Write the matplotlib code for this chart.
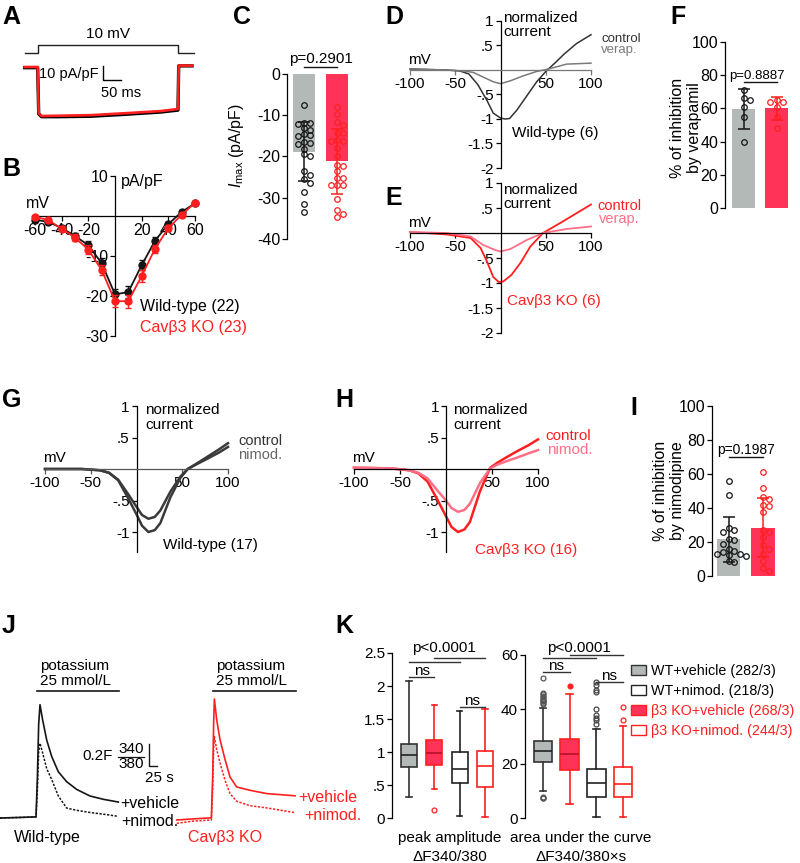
import matplotlib
matplotlib.use('Agg')
import matplotlib.pyplot as plt
from matplotlib.patches import Patch
from matplotlib.lines import Line2D

plt.rcParams['font.family'] = ['Liberation Sans', 'DejaVu Sans']
plt.rcParams['mathtext.fontset'] = 'custom'
plt.rcParams['mathtext.rm'] = 'Liberation Sans'
plt.rcParams['mathtext.it'] = 'Liberation Sans:italic'
plt.rcParams['axes.linewidth'] = 0.9
for a in ('xtick', 'ytick'):
    plt.rcParams[a + '.major.width'] = 0.9
    plt.rcParams[a + '.major.size'] = 3.5
    plt.rcParams[a + '.major.pad'] = 1.5

# ---------------- data ----------------
# A: voltage step and example currents (ms, mV, pA/pF)
prot_t = [-38, 0, 0, 400, 400, 445]
prot_mv = [-70, -70, 10, 10, -70, -70]
a_time = [-38, -1, 2, 10, 60, 150, 250, 350, 400, 402, 440]
a_wt = [-0.5, -0.5, -33.5, -35.5, -35.5, -35.2, -33.8, -32.2, -30.8, 0.8, 0.8]
a_ko = [0, 0, -33, -35, -34.8, -34.4, -33, -31.5, -30, 1, 1]

# B: current-voltage relation
b_mv = [-60, -50, -40, -30, -20, -10, 0, 10, 20, 30, 40, 50, 60]
b_wt = [-0.9, -1.5, -3.0, -5.0, -7.3, -11.8, -19.6, -19.0, -12.3, -6.2, -2.0, 1.0, 3.2]
b_wt_err = [0.3, 0.4, 0.6, 0.8, 1.0, 1.2, 1.3, 1.4, 1.2, 0.9, 0.6, 0.4, 0.4]
b_ko = [-0.2, -1.0, -3.2, -5.4, -8.4, -13.5, -21.3, -21.3, -15.0, -8.2, -3.0, 0.3, 3.3]
b_ko_err = [0.3, 0.4, 0.6, 0.9, 1.1, 1.3, 1.5, 1.6, 1.4, 1.0, 0.7, 0.5, 0.5]

# C: Imax
c_wt = [-7.5, -11.8, -12.0, -12.2, -13.2, -13.5, -14.5, -14.8, -15.0, -16.5, -16.8,
        -17.0, -18.2, -19.5, -20.0, -23.5, -24.5, -25.5, -26.5, -28.5, -31.5, -33.5]
c_ko = [-7.9, -9.8, -11.6, -12.4, -14.2, -14.4, -16.0, -16.3, -16.3, -17.9, -19.9, -22.0,
        -22.4, -23.6, -25.2, -25.2, -26.9, -26.9, -26.9, -30.2, -32.9, -33.9, -34.6]
c_mean = [-18.8, -21.2]
c_sd = [7.2, 7.8]

# D / E: normalized I-V, verapamil
d_mv = [-100, -80, -60, -45, -35, -25, -15, -8, 0, 5, 10, 18, 29, 40, 50, 60, 70, 84, 100]
d_ctrl = [0.02, 0.01, 0, -0.02, -0.08, -0.3, -0.62, -0.88, -0.98, -1.0, -0.99, -0.82,
          -0.53, -0.24, -0.03, 0.14, 0.32, 0.54, 0.72]
d_ver_mv = [-100, -60, -40, -30, -22, -8, 0, 11, 25, 40, 53, 73, 100]
d_ver = [0.02, 0, -0.02, -0.05, -0.12, -0.24, -0.28, -0.22, -0.12, -0.03, 0.02, 0.12, 0.14]
e_mv = [-100, -59, -33, -22, -15, -8, -2, 3, 12, 22, 33, 47, 66, 100]
e_ctrl = [0.02, -0.03, -0.1, -0.3, -0.57, -0.88, -0.98, -0.97, -0.84, -0.6, -0.27, 0.0, 0.2, 0.57]
e_ver_mv = [-100, -60, -33, -19, -6, 0, 11, 29, 47, 73, 100]
e_ver = [0.02, 0.0, -0.07, -0.24, -0.34, -0.37, -0.32, -0.14, 0.0, 0.08, 0.13]

# F: % inhibition by verapamil
f_wt = [71, 66, 65, 61, 55, 40]
f_ko = [65, 64, 64, 61, 55, 48]
f_mean = [59.5, 60.0]
f_sd = [12, 7]

# G / H: normalized I-V, nimodipine
g_mv = [-100, -60, -40, -30, -20, -10, 0, 6, 13, 20, 26, 37, 48, 56, 65, 77, 90, 100]
g_ctrl = [0, 0, -0.02, -0.06, -0.18, -0.44, -0.72, -0.9, -1.0, -0.97, -0.86, -0.45,
          -0.14, 0, 0.08, 0.19, 0.31, 0.41]
g_nim = [0, 0, -0.02, -0.06, -0.17, -0.38, -0.6, -0.73, -0.79, -0.76, -0.66, -0.36,
         -0.12, 0, 0.07, 0.16, 0.26, 0.35]
h_ctrl = [0.02, 0.01, -0.02, -0.07, -0.2, -0.47, -0.75, -0.92, -1.0, -0.96, -0.84, -0.35,
          0.02, 0.1, 0.18, 0.28, 0.38, 0.47]
h_nim = [0.02, 0.01, -0.02, -0.06, -0.15, -0.33, -0.5, -0.62, -0.68, -0.65, -0.55, -0.22,
         0.01, 0.07, 0.12, 0.18, 0.25, 0.3]

# I: % inhibition by nimodipine
i_wt = [56, 47.5, 28, 27, 26, 22, 21, 19, 16, 15, 14, 13, 13, 12.5, 12, 9, 8]
i_ko = [61, 52, 46.5, 45.5, 42, 41, 37.5, 27, 26, 23, 18, 16, 13, 9, 5, 3]
i_mean = [21.5, 28.5]
i_sd = [13, 17.5]

# J: Fura-2 ratio traces (s, dF340/380)
jl_t = [0, 60, 108, 112, 116, 120, 128, 140, 155, 175, 200, 230, 270, 310, 355]
jl_veh = [0, 0.005, 0.01, 0.35, 0.85, 1.03, 0.89, 0.71, 0.56, 0.42, 0.33, 0.26, 0.2, 0.17, 0.145]
jl_nim = [0, 0.005, 0.01, 0.25, 0.6, 0.68, 0.59, 0.45, 0.35, 0.2, 0.09, 0.07, 0.05, 0.035, 0.015]
jr_t = [0, 50, 104, 108, 111, 113, 120, 130, 145, 160, 180, 220, 270, 355]
jr_veh = [0, 0.01, 0.02, 0.4, 0.9, 1.1, 0.91, 0.73, 0.55, 0.39, 0.30, 0.27, 0.24, 0.22]
jr_nim = [-0.03, -0.01, 0.0, 0.3, 0.65, 0.76, 0.64, 0.52, 0.36, 0.24, 0.17, 0.13, 0.11, 0.067]
k_stim = [110, 357]

# K: box plot summaries, order WT+veh, KO+veh, WT+nimod, KO+nimod
k_groups = ['WT+vehicle (282/3)', 'WT+nimod. (218/3)', 'β3 KO+vehicle (268/3)', 'β3 KO+nimod. (244/3)']
k_peak = [dict(med=0.95, q1=0.78, q3=1.12, whislo=0.32, whishi=2.07, fliers=[]),
          dict(med=0.99, q1=0.80, q3=1.19, whislo=0.45, whishi=1.72, fliers=[0.12]),
          dict(med=0.75, q1=0.53, q3=1.00, whislo=0.04, whishi=1.62, fliers=[]),
          dict(med=0.79, q1=0.47, q3=1.02, whislo=0.02, whishi=1.66, fliers=[])]
k_auc = [dict(med=24.6, q1=20.8, q3=28.5, whislo=10, whishi=40.5,
              fliers=[42, 42.5, 43, 43, 43.5, 44, 44.5, 45, 45.5, 46, 51.7, 8, 7.5, 7.5]),
         dict(med=23.6, q1=17.7, q3=29, whislo=5.2, whishi=45.6, fliers=[48.5]),
         dict(med=12.9, q1=7.8, q3=18, whislo=0.3, whishi=32.8,
              fliers=[34.5, 36, 36.7, 37.8, 40, 46.5, 47, 49, 50]),
         dict(med=12.5, q1=8, q3=18.8, whislo=0.3, whishi=34, fliers=[36, 40.8])]

# ---------------- style ----------------
BLACK = '#151515'
RED = '#ff1f1f'
PINK = '#ff7088'
GRAYBAR = '#b3b9b7'
REDBAR = '#ff3358'
DGRAY = '#333333'
LGRAY = '#7a7a7a'

W, H = 800, 863
fig = plt.figure(figsize=(W / 100, H / 100), dpi=100)


def px_axes(box, xmap, ymap):
    l, t, r, b = box
    ax = fig.add_axes([l / W, 1 - b / H, (r - l) / W, (b - t) / H])
    (p1, v1), (p2, v2) = xmap
    s = (v2 - v1) / (p2 - p1)
    ax.set_xlim(v1 + (l - p1) * s, v1 + (r - p1) * s)
    (q1, u1), (q2, u2) = ymap
    s = (u2 - u1) / (q2 - q1)
    ax.set_ylim(u1 + (b - q1) * s, u1 + (t - q1) * s)
    ax.patch.set_visible(False)
    return ax


def ftext(x, y, s, **kw):
    kw.setdefault('fontsize', 11)
    fig.text(x / W, 1 - y / H, s, **kw)


def fline(x0, x1, y, **kw):
    fig.add_artist(Line2D([x0 / W, x1 / W], [1 - y / H, 1 - y / H], **kw))


def label(x, y, s):
    ftext(x, y, s, fontsize=18, weight='bold', va='top')


def cross(ax, xb, yb, xt, xtl, yt, ytl, fs=11, xcol='black'):
    for s in ('top', 'right'):
        ax.spines[s].set_visible(False)
    ax.spines['left'].set_position(('data', 0))
    ax.spines['bottom'].set_position(('data', 0))
    ax.spines['left'].set_bounds(*yb)
    ax.spines['bottom'].set_bounds(*xb)
    ax.spines['bottom'].set_color(xcol)
    ax.tick_params(axis='x', color=xcol)
    ax.set_xticks(xt, xtl)
    ax.set_yticks(yt, ytl)
    ax.tick_params(labelsize=fs)


def yonly(ax, yb, yt, ytl, fs=11):
    for s in ('top', 'right', 'bottom'):
        ax.spines[s].set_visible(False)
    ax.spines['left'].set_bounds(*yb)
    ax.set_xticks([])
    ax.set_yticks(yt, ytl)
    ax.tick_params(labelsize=fs)


def swarm(vals, dy, dx):
    placed, offs = [], []
    cands = [0]
    for i in range(1, 6):
        cands += [i * dx, -i * dx]
    for v in vals:
        for c in cands:
            if all(((c - p) / dx) ** 2 + ((v - q) / dy) ** 2 >= 0.9 for p, q in placed):
                break
        placed.append((c, v))
        offs.append(c)
    return offs


def bar_panel(ax, groups, means, sds, dy, dx, ms=4):
    cols = [(GRAYBAR, BLACK), (REDBAR, RED)]
    for i, (vals, m, sd) in enumerate(zip(groups, means, sds)):
        fc, ec = cols[i]
        ax.bar(i, m, width=0.67, color=fc, zorder=1)
        offs = swarm(vals, dy, dx)
        ax.plot([i + o for o in offs], vals, 'o', ms=ms, mfc='none', mec=ec, mew=0.9, zorder=3)
        ax.errorbar(i, m, yerr=sd, fmt='none', ecolor=ec, elinewidth=1.1, capsize=4,
                    capthick=1.1, zorder=4)


# ---------------- A ----------------
label(2, 5, 'A')
axp = px_axes((20, 30, 200, 60), ((38, 0), (178, 400)), ((53, -70), (45, 10)))
axp.plot(prot_t, prot_mv, color='#222222', lw=1)
axp.text(200, 55, '10 mV', ha='center', va='bottom', fontsize=11)
axp.axis('off')
axa = px_axes((20, 60, 200, 130), ((38, 0), (178, 400)), ((67, 0), (81, -10)))
axa.plot(a_time, a_wt, color='black', lw=2.4)
axa.plot(a_time, a_ko, color=RED, lw=1.9)
sb_t, sb_i = 186, 0.5
axa.plot([sb_t, sb_t, sb_t + 50], [sb_i, sb_i - 10, sb_i - 10], color='black', lw=1)
axa.text(sb_t - 12, sb_i - 5.5, '10 pA/pF', ha='right', va='center', fontsize=10.5)
axa.text(sb_t - 5, sb_i - 14, '50 ms', ha='left', va='top', fontsize=10.5)
axa.axis('off')

# ---------------- B ----------------
label(2, 157, 'B')
axb = px_axes((20, 168, 215, 340), ((35, -60), (195, 60)), ((216, 0), (176, 10)))
axb.errorbar(b_mv, b_wt, yerr=b_wt_err, fmt='-o', color=BLACK, ms=5, lw=1.3,
             capsize=2.5, elinewidth=1, zorder=3)
axb.errorbar(b_mv, b_ko, yerr=b_ko_err, fmt='-o', color=RED, ms=5, lw=1.3,
             capsize=2.5, elinewidth=1, zorder=4)
cross(axb, (-62, 60), (-30, 10), [-60, -40, -20, 20, 40, 60],
      ['-60', '-40', '-20', '20', '40', '60'], [10, -10, -20, -30], ['10', '-10', '-20', '-30'], fs=11.5)
ftext(121, 181, 'pA/pF', va='center', fontsize=11.5)
ftext(26, 203, 'mV', va='center', fontsize=11.5)
ftext(140, 307, 'Wild-type (22)', va='center', fontsize=11.5)
ftext(140, 327, 'Cavβ3 KO (23)', va='center', fontsize=11.5, color=RED)

# ---------------- C ----------------
label(233, 5, 'C')
axc = px_axes((287, 60, 360, 245), ((304, 0), (337, 1)), ((74, 0), (239, -40)))
bar_panel(axc, [c_wt, c_ko], c_mean, c_sd, dy=1.35, dx=0.18)
yonly(axc, (-40, 0), [0, -10, -20, -30, -40], ['0', '-10', '-20', '-30', '-40'], fs=11.5)
axc.plot([0, 1], [1.77, 1.77], color=BLACK, lw=1)
axc.text(0.5, 2.6, 'p=0.2901', ha='center', va='baseline', fontsize=11)
ftext(236, 146, r'$I_{\mathrm{max}}$ (pA/pF)', rotation=90, ha='center', va='center', fontsize=11.5)

# ---------------- D ----------------
label(385, 5, 'D')
axd = px_axes((405, 15, 600, 175), ((410, -100), (591, 100)), ((70, 0), (21, 1)))
axd.plot(d_mv, d_ctrl, color=DGRAY, lw=1.1)
axd.plot(d_ver_mv, d_ver, color=LGRAY, lw=1.1)
cross(axd, (-100, 100), (-2, 1), [-100, -50, 50, 100], ['-100', '-50', '50', '100'],
      [1, .5, -.5, -1, -1.5, -2], ['1', '.5', '-.5', '-1', '-1.5', '-2'], xcol='#777777')
ftext(503, 11, 'normalized\ncurrent', va='top', fontsize=11, linespacing=1.0)
ftext(408, 60, 'mV', va='center', fontsize=11)
ftext(601, 39, 'control', va='center', fontsize=9.5, color=DGRAY)
ftext(601, 50, 'verap.', va='center', fontsize=9.5, color=LGRAY)
ftext(512, 133, 'Wild-type (6)', va='center', fontsize=11)

# ---------------- E ----------------
label(385, 186, 'E')
axe = px_axes((405, 180, 600, 340), ((410, -100), (591, 100)), ((233, 0), (283, -1)))
axe.plot(e_mv, e_ctrl, color=RED, lw=1.3)
axe.plot(e_ver_mv, e_ver, color=PINK, lw=1.3)
cross(axe, (-100, 100), (-2, 1), [-100, -50, 50, 100], ['-100', '-50', '50', '100'],
      [1, .5, -.5, -1, -1.5, -2], ['1', '.5', '-.5', '-1', '-1.5', '-2'])
ftext(503, 183, 'normalized\ncurrent', va='top', fontsize=11, linespacing=1.0)
ftext(408, 223, 'mV', va='center', fontsize=11)
ftext(597, 206, 'control', va='center', fontsize=10.5, color=RED)
ftext(599, 219, 'verap.', va='center', fontsize=10.5, color=PINK)
ftext(507, 301, 'Cavβ3 KO (6)', va='center', fontsize=11, color=RED)

# ---------------- F ----------------
label(670, 5, 'F')
axf = px_axes((725, 38, 800, 212), ((743.5, 0), (776.5, 1)), ((208, 0), (42, 100)))
bar_panel(axf, [f_wt, f_ko], f_mean, f_sd, dy=3.3, dx=0.2)
yonly(axf, (0, 100), [0, 20, 40, 60, 80, 100], ['0', '20', '40', '60', '80', '100'], fs=11.5)
axf.plot([0, 1], [75.9, 75.9], color=BLACK, lw=1)
axf.text(0.42, 78, 'p=0.8887', ha='center', va='baseline', fontsize=9.5)
ftext(686, 128, '% of inhibition\nby verapamil', rotation=90, ha='center', va='center',
      fontsize=11.5, linespacing=1.15)

# ---------------- G ----------------
label(2, 388, 'G')
axg = px_axes((40, 400, 240, 556), ((45, -100), (228, 100)), ((469, 0), (406, 1)))
axg.plot(g_mv, g_ctrl, color='#3a3a3a', lw=1.8)
axg.plot(g_mv, g_nim, color='#3a3a3a', lw=1.8)
cross(axg, (-100, 100), (-1.32, 1), [-100, -50, 50, 100], ['-100', '-50', '50', '100'],
      [1, .5, -.5, -1], ['1', '.5', '-.5', '-1'], xcol='#555555')
ftext(145, 403, 'normalized\ncurrent', va='top', fontsize=11, linespacing=1.05)
ftext(43, 458, 'mV', va='center', fontsize=11)
ftext(238, 441, 'control', va='center', fontsize=10.5, color=DGRAY)
ftext(238, 455, 'nimod.', va='center', fontsize=10.5, color='#666666')
ftext(163, 545, 'Wild-type (17)', va='center', fontsize=11)

# ---------------- H ----------------
label(335, 388, 'H')
axh = px_axes((350, 400, 545, 556), ((354, -100), (538, 100)), ((469, 0), (406, 1)))
axh.plot(g_mv, h_ctrl, color=RED, lw=1.8)
axh.plot(g_mv, h_nim, color=PINK, lw=1.8)
cross(axh, (-100, 100), (-1.32, 1), [-100, -50, 50, 100], ['-100', '-50', '50', '100'],
      [1, .5, -.5, -1], ['1', '.5', '-.5', '-1'])
ftext(453, 403, 'normalized\ncurrent', va='top', fontsize=11, linespacing=1.05)
ftext(352, 458, 'mV', va='center', fontsize=11)
ftext(545, 436, 'control', va='center', fontsize=11, color=RED)
ftext(547, 450, 'nimod.', va='center', fontsize=11, color=PINK)
ftext(475, 550, 'Cavβ3 KO (16)', va='center', fontsize=11, color=RED)

# ---------------- I ----------------
label(630, 396, 'I')
axi = px_axes((712, 400, 790, 580), ((728.5, 0), (763, 1)), ((576, 0), (406, 100)))
bar_panel(axi, [i_wt, i_ko], i_mean, i_sd, dy=3.2, dx=0.17)
yonly(axi, (0, 100), [0, 20, 40, 60, 80, 100], ['0', '20', '40', '60', '80', '100'], fs=11.5)
axi.plot([0, 1], [70, 70], color=BLACK, lw=1)
axi.text(0.52, 72, 'p=0.1987', ha='center', va='baseline', fontsize=10)
ftext(669, 491, '% of inhibition\nby nimodipine', rotation=90, ha='center', va='center',
      fontsize=11.5, linespacing=1.15)

# ---------------- J ----------------
label(2, 614, 'J')
axjl = px_axes((0, 655, 175, 850), ((0, 0), (100, 300)), ((818, 0), (708, 1)))
axjl.plot(jl_t, jl_veh, color=BLACK, lw=1.2)
axjl.plot(jl_t, jl_nim, color=BLACK, lw=1.1, ls=(0, (1.5, 1)))
axjl.plot(k_stim, [1.155, 1.155], color=BLACK, lw=1.2)
jsb_t, jsb_r = 447, 0.47
axjl.plot([jsb_t, jsb_t, jsb_t + 25], [jsb_r + 0.2, jsb_r, jsb_r], color=BLACK, lw=1, clip_on=False)
axjl.axis('off')
ftext(40, 688, 'potassium\n25 mmol/L', va='bottom', fontsize=11, linespacing=1.1)
ftext(113, 756, '0.2F', ha='right', va='center', fontsize=11)
ftext(131, 749, '340', ha='center', va='center', fontsize=11)
ftext(131, 764, '380', ha='center', va='center', fontsize=11)
fline(118, 144, 756.5, color=BLACK, lw=0.9)
ftext(145, 778, '25 s', va='center', fontsize=11)
ftext(120, 803, '+vehicle', va='center', fontsize=11.5)
ftext(121, 821, '+nimod.', va='center', fontsize=11.5)
ftext(14, 837, 'Wild-type', va='center', fontsize=11.5)

axjr = px_axes((175, 655, 380, 850), ((176.7, 0), (276.7, 300)), ((820, 0), (710, 1)))
axjr.plot(jr_t, jr_veh, color=RED, lw=1.2)
axjr.plot(jr_t, jr_nim, color=RED, lw=1.1, ls=(0, (1.5, 1)))
axjr.plot(k_stim, [1.17, 1.17], color=BLACK, lw=1.2)
axjr.axis('off')
ftext(216, 688, 'potassium\n25 mmol/L', va='bottom', fontsize=11, linespacing=1.1)
ftext(298, 797, '+vehicle', va='center', fontsize=11.5, color=RED)
ftext(304, 815, '+nimod.', va='center', fontsize=11.5, color=RED)
ftext(188, 837, 'Cavβ3 KO', va='center', fontsize=11.5, color=RED)

# ---------------- K ----------------
label(335, 614, 'K')
box_face = [GRAYBAR, REDBAR, 'white', 'white']
box_edge = ['#333333', RED, '#222222', RED]
med_col = ['#222222', '#b8102a', '#222222', RED]
fl_edge = ['#555555', RED, '#444444', RED]


def kbox(ax, stats, width, fill_red):
    st = [dict(s, label='') for s in stats]
    bp = ax.bxp(st, positions=[0, 1, 2, 3], widths=width, patch_artist=True,
                showfliers=False, capwidths=width * 0.35)
    for j in range(4):
        bp['boxes'][j].set(facecolor=box_face[j], edgecolor=box_edge[j], lw=1.2)
        bp['medians'][j].set(color=med_col[j], lw=1.2)
        for w in bp['whiskers'][2 * j:2 * j + 2] + bp['caps'][2 * j:2 * j + 2]:
            w.set(color=box_edge[j], lw=1.2)
        fl = stats[j]['fliers']
        fc = fl_edge[j] if (j == 1 and fill_red) else 'none'
        ax.plot([j] * len(fl), fl, 'o', ms=3.5, mfc=fc, mec=fl_edge[j], mew=0.9, clip_on=False)


axk1 = px_axes((392, 640, 505, 822), ((409, 0), (485, 3)), ((818.3, 0), (653, 2.5)))
kbox(axk1, k_peak, 0.63, False)
yonly(axk1, (0, 2.5), [0, .5, 1, 1.5, 2, 2.5], ['0', '.5', '1', '1.5', '2', '2.5'], fs=11)
axk1.plot([0, 2], [2.36, 2.36], color=DGRAY, lw=1)
axk1.plot([1, 3], [2.42, 2.42], color=DGRAY, lw=1)
axk1.text(1.4, 2.51, 'p<0.0001', ha='center', va='baseline', fontsize=11)
axk1.plot([0, 1], [2.14, 2.14], color=DGRAY, lw=1)
axk1.text(0.5, 2.17, 'ns', ha='center', va='baseline', fontsize=11)
axk1.plot([2, 3], [1.69, 1.69], color=DGRAY, lw=1)
axk1.text(2.5, 1.72, 'ns', ha='center', va='baseline', fontsize=11)

axk2 = px_axes((525, 640, 640, 822), ((543, 0), (623, 3)), ((818.3, 0), (655, 60)))
kbox(axk2, k_auc, 0.7, True)
yonly(axk2, (0, 60), [0, 20, 40, 60], ['0', '20', '40', '60'], fs=11)
axk2.plot([0, 2], [58.8, 58.8], color=DGRAY, lw=1)
axk2.plot([1, 3], [60, 60], color=DGRAY, lw=1)
axk2.text(1.35, 61.1, 'p<0.0001', ha='center', va='baseline', fontsize=11)
axk2.plot([0, 1], [53.8, 53.8], color=DGRAY, lw=1)
axk2.text(0.5, 54.5, 'ns', ha='center', va='baseline', fontsize=11)
axk2.plot([2, 3], [50.2, 50.2], color=DGRAY, lw=1)
axk2.text(2.46, 50.8, 'ns', ha='center', va='baseline', fontsize=11)

ftext(450, 838, 'peak amplitude', ha='center', va='center', fontsize=11)
ftext(450, 857, 'ΔF340/380', ha='center', va='center', fontsize=11)
ftext(581, 838, 'area under the curve', ha='center', va='center', fontsize=11)
ftext(581, 857, 'ΔF340/380×s', ha='center', va='center', fontsize=11)

handles = [Patch(facecolor=GRAYBAR, edgecolor='#333333', lw=1),
           Patch(facecolor='white', edgecolor='#222222', lw=1),
           Patch(facecolor=REDBAR, edgecolor=RED, lw=1),
           Patch(facecolor='white', edgecolor=RED, lw=1)]
fig.legend(handles, k_groups, loc='upper left', bbox_to_anchor=(631 / W, 1 - 664 / H),
           frameon=False, fontsize=10.3, handlelength=1.05, handleheight=0.7,
           handletextpad=0.35, labelspacing=0.42, borderpad=0, borderaxespad=0,
           labelcolor=['black', 'black', RED, RED])

fig.savefig('out.png', dpi=100)
